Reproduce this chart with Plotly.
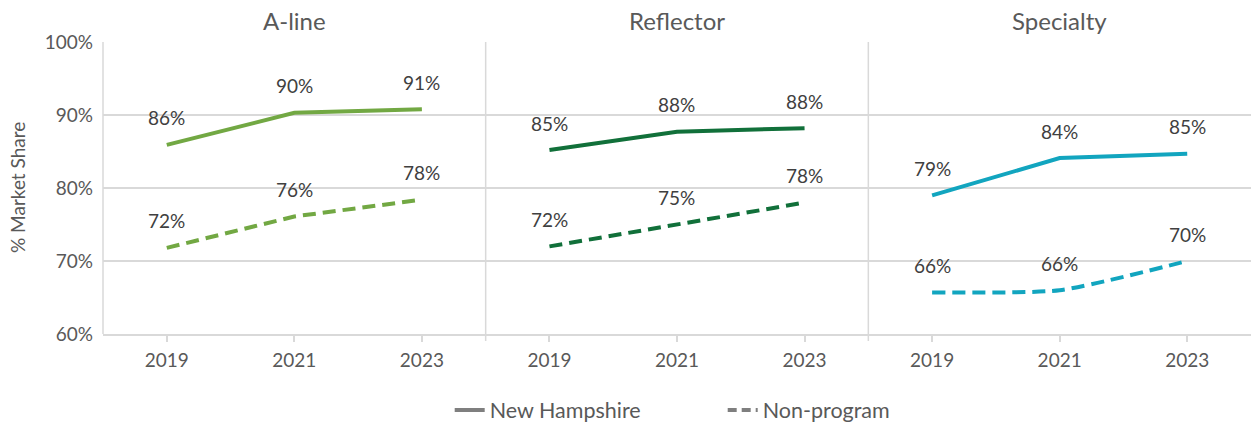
import plotly.graph_objects as go
from plotly.subplots import make_subplots

years = ["2019", "2021", "2023"]
panels = ["A-line", "Reflector", "Specialty"]
nh_aline = [85.9, 90.3, 90.8]
np_aline = [71.8, 76.1, 78.4]
nh_refl = [85.2, 87.7, 88.2]
np_refl = [72.0, 75.0, 78.0]
nh_spec = [79.0, 84.1, 84.7]
np_spec = [65.7, 66.0, 70.0]
nh_labels = [["86%", "90%", "91%"], ["85%", "88%", "88%"], ["79%", "84%", "85%"]]
np_labels = [["72%", "76%", "78%"], ["72%", "75%", "78%"], ["66%", "66%", "70%"]]
colors = ["#72A843", "#11703A", "#12A5BF"]

FONT = "Lato"
TXT = "#595959"
LBL = "#404040"
GRID = "#D9D9D9"

nh = [nh_aline, nh_refl, nh_spec]
npg = [np_aline, np_refl, np_spec]

fig = make_subplots(rows=1, cols=3, shared_yaxes=True, horizontal_spacing=0)

for i in range(3):
    c = i + 1
    fig.add_trace(go.Scatter(x=years, y=nh[i], mode="lines",
                             line=dict(color=colors[i], width=4),
                             showlegend=False, hoverinfo="skip"), row=1, col=c)
    fig.add_trace(go.Scatter(x=years, y=npg[i], mode="lines",
                             line=dict(color=colors[i], width=4, dash="13px,7px",
                                       shape="spline" if i == 2 else "linear",
                                       smoothing=0.6),
                             showlegend=False, hoverinfo="skip"), row=1, col=c)
    xr = "x" if c == 1 else f"x{c}"
    for j in range(3):
        fig.add_annotation(x=j, y=nh[i][j], xref=xr, yref="y",
                           text=nh_labels[i][j], showarrow=False, yshift=27,
                           font=dict(family=FONT, size=19, color=LBL))
        fig.add_annotation(x=j, y=npg[i][j], xref=xr, yref="y",
                           text=np_labels[i][j], showarrow=False, yshift=27,
                           font=dict(family=FONT, size=19, color=LBL))
    # panel title
    fig.add_annotation(x=0.5, y=1.075, xref=f"{xr} domain", yref="paper",
                       text=panels[i], showarrow=False, yanchor="middle",
                       font=dict(family=FONT, size=24, color=TXT))
    # panel left border / divider
    fig.add_shape(type="line", xref=f"{xr} domain", yref="y domain",
                  x0=0, x1=0, y0=(-0.024 if i > 0 else 0), y1=1,
                  line=dict(color=GRID, width=1.5), layer="below")
    fig.update_xaxes(type="category", range=[-0.5, 2.5], showgrid=False,
                     showline=True, linecolor=GRID, linewidth=1.5,
                     ticks="outside", ticklen=6, tickcolor=GRID, tickwidth=1.5,
                     ticklabelstandoff=2,
                     tickfont=dict(family=FONT, size=19, color=TXT),
                     automargin=False, row=1, col=c)

# y-axis title
fig.add_annotation(x=-0.0749, y=0.5, xref="paper", yref="paper",
                   xanchor="center", yanchor="middle",
                   text="% Market Share", showarrow=False, textangle=-90,
                   font=dict(family=FONT, size=19, color=TXT))

# legend-only entries
fig.add_trace(go.Scatter(x=[None], y=[None], mode="lines", name="New Hampshire",
                         line=dict(color="#7F7F7F", width=4)))
fig.add_trace(go.Scatter(x=[None], y=[None], mode="lines", name="Non-program",
                         line=dict(color="#7F7F7F", width=4, dash="9px,5px")))

fig.update_yaxes(range=[60, 100], dtick=10, ticksuffix="%", showgrid=True,
                 gridcolor=GRID, gridwidth=1.5, zeroline=False, showline=False,
                 automargin=False, ticklabelstandoff=9,
                 tickfont=dict(family=FONT, size=19, color=TXT))

fig.update_layout(
    width=1251, height=424,
    margin=dict(l=103, r=0, t=42, b=90, autoexpand=False),
    paper_bgcolor="white", plot_bgcolor="white",
    showlegend=True,
    legend=dict(orientation="h", x=0.302, xanchor="left", y=-0.26,
                yanchor="middle", font=dict(family=FONT, size=21.5, color=TXT),
                entrywidthmode="pixels", entrywidth=228, tracegroupgap=0),
)

fig.write_html("out.html", config={"displayModeBar": False},
               post_script="document.body.style.margin='0';"
                           "document.body.style.overflow='hidden';")
